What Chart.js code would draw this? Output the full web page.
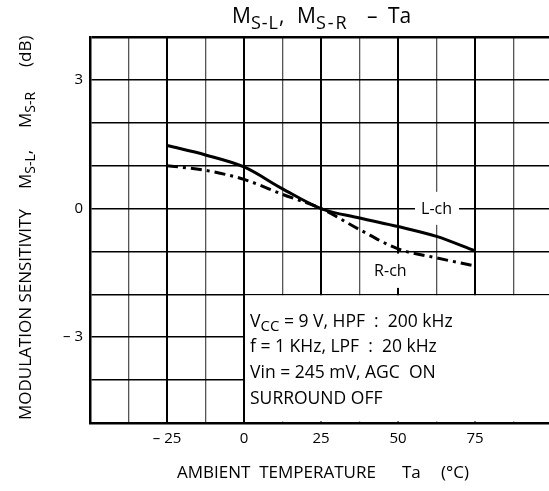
<!DOCTYPE html>
<html>
<head>
<meta charset="utf-8">
<script src="https://cdn.jsdelivr.net/npm/chart.js@4/dist/chart.umd.min.js"></script>
<style>
html,body{margin:0;padding:0;background:#fff;}
#wrap{width:549px;height:491px;position:relative;}
</style>
</head>
<body>
<div id="wrap"><canvas id="c" width="549" height="491"></canvas></div>
<script>
// ---- data ----
const temperatures = [-25, -12.5, 0, 12.5, 25, 37.5, 50, 62.5, 75];
const lchValues    = [1.47, 1.25, 0.97, 0.46, 0, -0.22, -0.42, -0.65, -0.99];
const rchValues    = [1.0, 0.89, 0.68, 0.33, 0, -0.49, -0.94, -1.15, -1.34];
const xGridValues  = [-50, -37.5, -25, -12.5, 0, 12.5, 25, 37.5, 50, 62.5, 75, 87.5];
const yGridValues  = [-5, -4, -3, -2, -1, 0, 1, 2, 3, 4];
const xTickLabels  = {"-25": "\u2013 25", "0": "0", "25": "25", "50": "50", "75": "75"};
const yTickLabels  = {"3": "3", "0": "0", "-3": "\u2013 3"};
const conditionLines = [
  [{t: "V"}, {t: "CC", sub: true}, {t: " = 9 V, HPF  :  200 kHz"}],
  [{t: "f = 1 KHz, LPF  :  20 kHz"}],
  [{t: "Vin = 245 mV, AGC  ON"}],
  [{t: "SURROUND OFF"}]
];

const FONT = '"Open Sans", "Noto Sans", sans-serif';

function drawParts(ctx, parts, x, y, size, subSize, subDrop, subSpacing) {
  for (const p of parts) {
    ctx.font = (p.sub ? subSize : size) + 'px ' + FONT;
    ctx.letterSpacing = p.sub ? (subSpacing || '0px') : '0px';
    ctx.fillText(p.t, x, y + (p.sub ? subDrop : 0));
    x += ctx.measureText(p.t).width;
  }
  ctx.letterSpacing = '0px';
  return x;
}

const annotations = {
  id: 'annotations',
  beforeDatasetsDraw(chart) {
    const {ctx, chartArea: a, scales: {x, y}} = chart;
    ctx.save();
    ctx.fillStyle = '#fff';
    // conditions box (covers the grid)
    const bx = x.getPixelForValue(0), by = y.getPixelForValue(-2);
    ctx.fillRect(bx + 1, by + 1, a.right - bx, a.bottom - by - 2.5);
    ctx.strokeStyle = '#000';
    ctx.lineWidth = 2;
    ctx.beginPath(); ctx.moveTo(bx, by); ctx.lineTo(bx, a.bottom); ctx.stroke();
    // L-ch label background
    let x1 = x.getPixelForValue(55.5), x2 = x.getPixelForValue(69.8);
    let y1 = y.getPixelForValue(0.39), y2 = y.getPixelForValue(-0.38);
    ctx.fillRect(x1, y1, x2 - x1, y2 - y1);
    // R-ch label background
    x1 = x.getPixelForValue(40.5); x2 = x.getPixelForValue(54.5);
    y1 = y.getPixelForValue(-1.05); y2 = y.getPixelForValue(-1.85);
    ctx.fillRect(x1, y1, x2 - x1, y2 - y1);
    ctx.restore();
  },
  afterDraw(chart) {
    const {ctx, scales: {x, y}} = chart;
    ctx.save();
    ctx.fillStyle = '#000';
    ctx.textBaseline = 'alphabetic';
    ctx.textAlign = 'left';
    // title
    drawParts(ctx, [{t: 'M'}, {t: 'S-L', sub: true}, {t: ','}], 232, 23, 21, 18, 6, '1px');
    drawParts(ctx, [{t: 'M'}, {t: 'S-R', sub: true}], 297, 23, 21, 18, 6, '2px');
    drawParts(ctx, [{t: '\u2013'}], 367, 23, 21, 18, 6);
    drawParts(ctx, [{t: 'Ta'}], 388, 23, 21, 18, 6);
    // x axis title
    drawParts(ctx, [{t: 'AMBIENT  TEMPERATURE'}], 177, 478, 17, 14, 4);
    drawParts(ctx, [{t: 'Ta'}], 402, 478, 17, 14, 4);
    drawParts(ctx, [{t: '(\u00B0C)'}], 441, 478, 17, 14, 4);
    // y axis title (rotated)
    ctx.save();
    ctx.translate(31, 0);
    ctx.rotate(-Math.PI / 2);
    drawParts(ctx, [{t: 'MODULATION SENSITIVITY'}], -420, 0, 17, 14, 4);
    drawParts(ctx, [{t: 'M'}, {t: 'S-L', sub: true}, {t: ','}], -189, 0, 17, 14, 4);
    drawParts(ctx, [{t: 'M'}, {t: 'S-R', sub: true}], -128, 0, 17, 14, 4);
    drawParts(ctx, [{t: '(dB)'}], -67, 0, 17, 14, 4);
    ctx.restore();
    // series labels
    ctx.font = '16px ' + FONT;
    ctx.textAlign = 'center';
    ctx.textBaseline = 'middle';
    ctx.fillText('L-ch', x.getPixelForValue(62.5), y.getPixelForValue(0) + 1);
    ctx.fillText('R-ch', x.getPixelForValue(47.5), y.getPixelForValue(-1.47));
    // condition text
    ctx.textAlign = 'left';
    ctx.textBaseline = 'alphabetic';
    const tx = x.getPixelForValue(0) + 6;
    const baselines = [327, 352, 378, 404];
    conditionLines.forEach((parts, i) => {
      drawParts(ctx, parts, tx, baselines[i], 17.5, 15, 4);
    });
    ctx.restore();
  }
};

const ctx = document.getElementById('c').getContext('2d');
new Chart(ctx, {
  type: 'line',
  data: {
    datasets: [
      {
        label: 'L-ch',
        data: temperatures.map((t, i) => ({x: t, y: lchValues[i]})),
        borderColor: '#000',
        borderWidth: 3,
        pointRadius: 0,
        cubicInterpolationMode: 'monotone',
        borderCapStyle: 'butt',
        fill: false
      },
      {
        label: 'R-ch',
        data: temperatures.map((t, i) => ({x: t, y: rchValues[i]})),
        borderColor: '#000',
        borderWidth: 3,
        borderDash: [11, 5, 3, 5],
        pointRadius: 0,
        cubicInterpolationMode: 'monotone',
        borderCapStyle: 'butt',
        fill: false
      }
    ]
  },
  options: {
    responsive: false,
    animation: false,
    devicePixelRatio: 1,
    layout: {padding: {top: 37, left: 0, right: 0, bottom: 0}},
    plugins: {legend: {display: false}, tooltip: {enabled: false}, title: {display: false}},
    scales: {
      x: {
        type: 'linear',
        min: -50,
        max: 99,
        afterBuildTicks: s => { s.ticks = xGridValues.map(v => ({value: v})); },
        afterFit: s => { s.height = 68; },
        ticks: {
          autoSkip: false,
          maxRotation: 0,
          padding: 7,
          color: '#000',
          font: {family: FONT, size: 15},
          callback: v => xTickLabels[String(v)] || ''
        },
        grid: {
          drawTicks: false,
          color: c => (c.tick && c.tick.value % 25 === 0) ? '#000' : '#555',
          lineWidth: c => (c.tick && c.tick.value % 25 === 0) ? 2 : 1.3
        },
        border: {display: true, color: '#000', width: 2.5}
      },
      y: {
        type: 'linear',
        min: -5,
        max: 4,
        afterBuildTicks: s => { s.ticks = yGridValues.map(v => ({value: v})); },
        afterFit: s => { s.width = 90; },
        ticks: {
          autoSkip: false,
          padding: 7,
          color: '#000',
          font: {family: FONT, size: 15},
          callback: v => yTickLabels[String(v)] || ''
        },
        grid: {
          drawTicks: false,
          color: '#000',
          lineWidth: c => (c.tick && c.tick.value === 4) ? 2.5 : 1.5
        },
        border: {display: true, color: '#000', width: 2.5}
      }
    }
  },
  plugins: [annotations]
});
</script>
</body>
</html>
